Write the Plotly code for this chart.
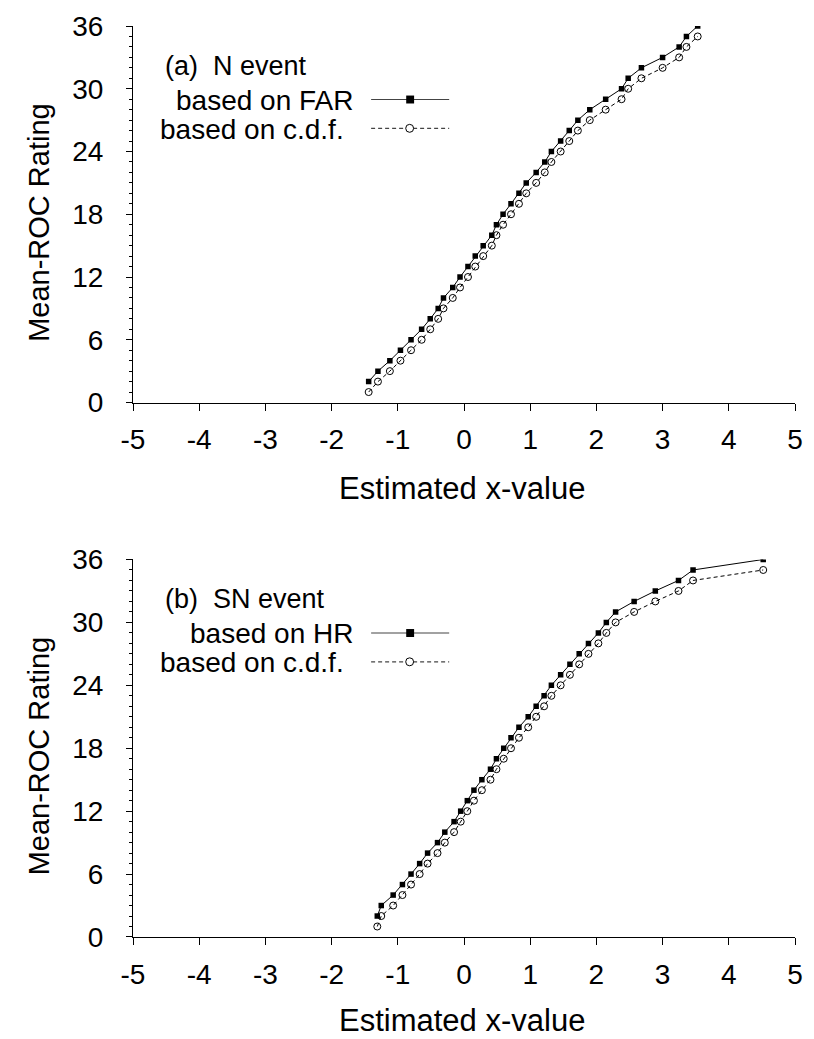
import plotly.graph_objects as go
from plotly.subplots import make_subplots

# ---------------- data ----------------
# Panel (a): N event. Estimated x-value for each rating level
N_X = [-1.44, -1.30, -1.12, -0.96, -0.80, -0.64, -0.51, -0.39, -0.31, -0.17,
       -0.06, 0.06, 0.17, 0.29, 0.42, 0.49, 0.59, 0.71, 0.83, 0.94,
       1.09, 1.22, 1.32, 1.46, 1.59, 1.72, 1.90, 2.14, 2.38, 2.48,
       2.68, 3.00, 3.25, 3.36, 3.53]
# Panel (b): SN event
SN_X = [-1.31, -1.25, -1.07, -0.93, -0.80, -0.67, -0.55, -0.40, -0.29, -0.15,
        -0.05, 0.05, 0.15, 0.27, 0.40, 0.49, 0.60, 0.71, 0.83, 0.97,
        1.09, 1.21, 1.32, 1.46, 1.60, 1.74, 1.88, 2.03, 2.15, 2.29,
        2.57, 2.89, 3.24, 3.46, 4.52]
RATING_RATE = [2, 3, 4, 5, 6, 7, 8, 9, 10, 11, 12, 13, 14, 15, 16, 17, 18, 19, 20,
               21, 22, 23, 24, 25, 26, 27, 28, 29, 30, 31, 32, 33, 34, 35, 36]
RATING_CDF = [1, 2, 3, 4, 5, 6, 7, 8, 9, 10, 11, 12, 13, 14, 15, 16, 17, 18, 19,
              20, 21, 22, 23, 24, 25, 26, 27, 28, 29, 30, 31, 32, 33, 34, 35]

X_TICKS = [-5, -4, -3, -2, -1, 0, 1, 2, 3, 4, 5]
X_TICK_TEXT = ["-5", "-4", "-3", "-2", "-1", "0", "1", "2", "3", "4", "5"]
Y_TICKS = [0, 6, 12, 18, 24, 30, 36]

PANELS = [
    {"x": N_X, "label": "(a)\u00a0\u00a0N event", "rate": "based on FAR"},
    {"x": SN_X, "label": "(b)\u00a0\u00a0SN event", "rate": "based on HR"},
]

# ---------------- layout geometry ----------------
W, H = 814, 1039
L, R, T, B = 133, 11, 20, 102
PW, PH = W - L - R, H - T - B


def PX(px):
    return (px - L) / PW


def PY(py):
    return (H - B - py) / PH


top_dom = [PY(399), PY(20)]
bot_dom = [PY(937), PY(557)]

FONT = "Liberation Sans, Arial, sans-serif"
TICK_SIZE = 28
YTITLE_SIZE = 29
XTITLE_SIZE = 31
LEG_SIZE = 28
LABEL_SIZE = 27

fig = make_subplots(rows=2, cols=1)

for i, p in enumerate(PANELS):
    row = i + 1
    fig.add_trace(go.Scatter(
        x=p["x"], y=RATING_RATE, mode="lines+markers", showlegend=False,
        line=dict(color="black", width=1),
        marker=dict(symbol="square", size=5.5, color="black")), row=row, col=1)
    fig.add_trace(go.Scatter(
        x=p["x"], y=RATING_CDF, mode="lines+markers", showlegend=False,
        line=dict(color="black", width=1, dash="4px,3px"),
        marker=dict(symbol="circle-open", size=7, color="black",
                    line=dict(width=1, color="black"))), row=row, col=1)

axis_common = dict(showgrid=False, zeroline=False, showline=True,
                   linecolor="black", linewidth=1, ticks="outside",
                   tickcolor="black", tickwidth=1,
                   tickfont=dict(family=FONT, size=TICK_SIZE, color="black"))

for i in range(2):
    fig.update_xaxes(range=[-5, 5], tickvals=X_TICKS, ticktext=X_TICK_TEXT,
                     ticklen=7, ticklabelstandoff=5, **axis_common,
                     row=i + 1, col=1)
    fig.update_yaxes(range=[0, 36], tickvals=Y_TICKS, ticklen=6,
                     ticklabelstandoff=17,
                     minor=dict(dtick=1, ticks="outside", ticklen=3,
                                tickcolor="black", showgrid=False),
                     **axis_common, row=i + 1, col=1)

fig.update_layout(
    width=W, height=H, margin=dict(l=L, r=R, t=T, b=B),
    paper_bgcolor="white", plot_bgcolor="white",
    xaxis=dict(domain=[0, 1]), xaxis2=dict(domain=[0, 1]),
    yaxis=dict(domain=top_dom), yaxis2=dict(domain=bot_dom),
    font=dict(family=FONT, color="black"),
)

annotations = []
shapes = []
for i, p in enumerate(PANELS):
    off = 0 if i == 0 else 537
    # axis titles
    annotations.append(dict(xref="paper", yref="paper", x=PX(38), y=PY(218 + off),
                            text="Mean-ROC Rating", textangle=-90, showarrow=False,
                            font=dict(size=YTITLE_SIZE), xanchor="center", yanchor="middle"))
    annotations.append(dict(xref="paper", yref="paper", x=PX(466), y=PY(486 + off - (2 if i else 0)),
                            text="Estimated x-value", showarrow=False,
                            font=dict(size=XTITLE_SIZE), xanchor="center", yanchor="middle"))
    # legend texts
    annotations.append(dict(xref="paper", yref="paper", x=PX(163), y=PY(60 + off),
                            text=p["label"], showarrow=False,
                            font=dict(size=LABEL_SIZE), xanchor="left", yanchor="middle"))
    annotations.append(dict(xref="paper", yref="paper", x=PX(358), y=PY(95 + off),
                            text=p["rate"], showarrow=False,
                            font=dict(size=LEG_SIZE), xanchor="right", yanchor="middle"))
    annotations.append(dict(xref="paper", yref="paper", x=PX(349), y=PY(124 + off),
                            text="based on c.d.f.", showarrow=False,
                            font=dict(size=LEG_SIZE), xanchor="right", yanchor="middle"))
    # legend line samples
    ya = 94 + off
    yb = 123 + off
    shapes.append(dict(type="line", xref="paper", yref="paper",
                       x0=PX(374), x1=PX(453), y0=PY(ya), y1=PY(ya),
                       line=dict(color="#444", width=1.2)))
    shapes.append(dict(type="line", xref="paper", yref="paper",
                       x0=PX(374), x1=PX(453), y0=PY(yb), y1=PY(yb),
                       line=dict(color="#444", width=1.2, dash="4px,3px")))
    shapes.append(dict(type="rect", xref="paper", yref="paper",
                       x0=PX(409.5), x1=PX(417.5), y0=PY(ya - 4), y1=PY(ya + 4),
                       fillcolor="black", line=dict(color="black", width=0)))
    shapes.append(dict(type="circle", xref="paper", yref="paper",
                       x0=PX(409), x1=PX(417), y0=PY(yb - 4), y1=PY(yb + 4),
                       fillcolor="white", line=dict(color="black", width=1)))

fig.update_layout(annotations=annotations, shapes=shapes)

fig.write_html("out.html")
